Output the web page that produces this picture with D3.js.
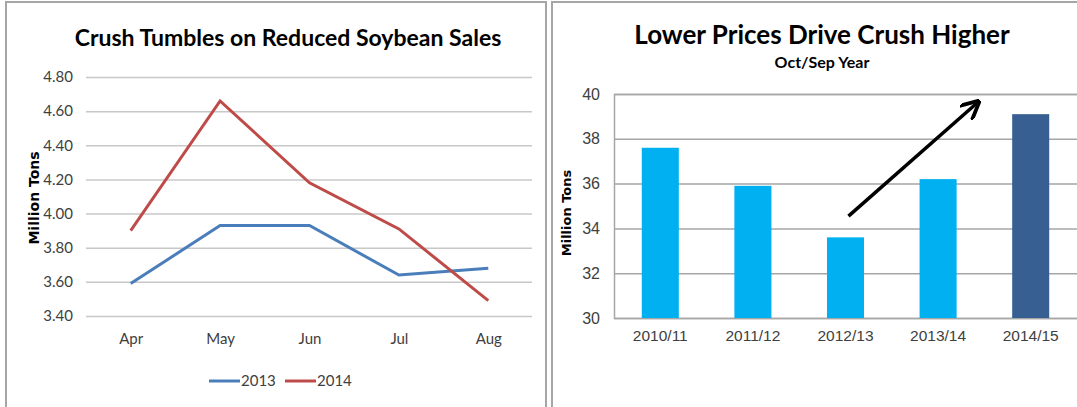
<!DOCTYPE html>
<html>
<head>
<meta charset="utf-8">
<script src="https://cdn.jsdelivr.net/npm/d3@7"></script>
<style>
  body { margin: 0; background: #fff; }
  svg { display: block; font-family: Lato, 'Open Sans', sans-serif; }
</style>
</head>
<body>
<svg id="chart" width="1077" height="407"></svg>
<script>
// left chart: monthly crush
var months = ['Apr', 'May', 'Jun', 'Jul', 'Aug'];
var crush2013 = [3.59, 3.93, 3.93, 3.64, 3.68];
var crush2014 = [3.90, 4.66, 4.18, 3.91, 3.49];
var lineTicks = [3.40, 3.60, 3.80, 4.00, 4.20, 4.40, 4.60, 4.80];

// right chart: marketing year crush
var years = ['2010/11', '2011/12', '2012/13', '2013/14', '2014/15'];
var yearCrush = [37.6, 35.9, 33.6, 36.2, 39.1];
var barTicks = [30, 32, 34, 36, 38, 40];

var svg = d3.select('#chart');
var textColor = '#404040';
var narrow = "'Liberation Sans Narrow', Lato, sans-serif";
var wideBold = "'DejaVu Sans', Verdana, sans-serif";

// panel frames
svg.append('path')
  .attr('d', 'M6,408 V2 H546 V408')
  .attr('fill', 'none')
  .attr('stroke', '#a6a6a6')
  .attr('stroke-width', 2);
svg.append('path')
  .attr('d', 'M552,408 V2 H1080')
  .attr('fill', 'none')
  .attr('stroke', '#a6a6a6')
  .attr('stroke-width', 2);

// ---------- left: line chart ----------
var x1 = d3.scalePoint().domain(months).range([86, 533]).padding(0.5);
var y1 = d3.scaleLinear().domain([3.4, 4.8]).range([316, 77]);

svg.append('text')
  .attr('x', 288)
  .attr('y', 46)
  .attr('text-anchor', 'middle')
  .attr('font-size', 23)
  .attr('font-weight', 'bold')
  .attr('fill', '#000')
  .text('Crush Tumbles on Reduced Soybean Sales');

var left = svg.append('g');

left.append('g')
  .attr('transform', 'translate(86,0)')
  .call(d3.axisLeft(y1).tickValues(lineTicks).tickFormat(d3.format('.2f'))
    .tickSize(-446).tickPadding(13))
  .call(function(g) {
    g.select('.domain').remove();
    g.selectAll('.tick line').attr('stroke', '#c8c8c8').attr('stroke-width', 1.5);
    g.selectAll('.tick text').attr('fill', textColor).attr('font-size', 15)
      .attr('font-family', narrow);
  });

left.append('g')
  .attr('transform', 'translate(0,316)')
  .call(d3.axisBottom(x1).tickSize(0).tickPadding(17))
  .call(function(g) {
    g.select('.domain').remove();
    g.selectAll('.tick text').attr('fill', textColor).attr('font-size', 15)
      .attr('font-family', narrow);
  });

left.append('text')
  .attr('transform', 'translate(39,198) rotate(-90)')
  .attr('text-anchor', 'middle')
  .attr('font-size', 14)
  .attr('font-weight', 'bold')
  .attr('font-family', wideBold)
  .attr('fill', '#000')
  .text('Million Tons');

var line = d3.line()
  .x(function(d, i) { return x1(months[i]); })
  .y(function(d) { return y1(d); });

var series = [
  { name: '2013', values: crush2013, color: '#4a7ebb' },
  { name: '2014', values: crush2014, color: '#be4b48' }
];

left.selectAll('.series')
  .data(series)
  .enter()
  .append('path')
  .attr('class', 'series')
  .attr('d', function(d) { return line(d.values); })
  .attr('fill', 'none')
  .attr('stroke', function(d) { return d.color; })
  .attr('stroke-width', 3);

var legend = left.selectAll('.legend')
  .data(series)
  .enter()
  .append('g')
  .attr('class', 'legend')
  .attr('transform', function(d, i) {
    return 'translate(' + (209 + i * 76) + ',381)';
  });
legend.append('line')
  .attr('x1', 0).attr('x2', 31)
  .attr('stroke', function(d) { return d.color; })
  .attr('stroke-width', 3);
legend.append('text')
  .attr('x', 32)
  .attr('dy', '0.35em')
  .attr('font-size', 15)
  .attr('font-family', narrow)
  .attr('fill', textColor)
  .text(function(d) { return d.name; });

// ---------- right: bar chart ----------
var x2 = d3.scaleBand().domain(years).range([614, 1077]).paddingInner(0.6).paddingOuter(0.3);
var y2 = d3.scaleLinear().domain([30, 40]).range([318, 94]);

svg.append('text')
  .attr('x', 822)
  .attr('y', 44)
  .attr('text-anchor', 'middle')
  .attr('font-size', 26)
  .attr('font-weight', 'bold')
  .attr('fill', '#000')
  .text('Lower Prices Drive Crush Higher');

svg.append('text')
  .attr('x', 822)
  .attr('y', 68)
  .attr('text-anchor', 'middle')
  .attr('font-size', 16)
  .attr('font-weight', 'bold')
  .attr('fill', '#000')
  .text('Oct/Sep Year');

var right = svg.append('g');

right.append('g')
  .attr('transform', 'translate(614,0)')
  .call(d3.axisLeft(y2).tickValues(barTicks).tickSize(-463).tickPadding(14))
  .call(function(g) {
    g.select('.domain').attr('stroke', '#a6a6a6').attr('stroke-width', 1.5);
    g.selectAll('.tick line').attr('stroke', '#a6a6a6').attr('stroke-width', 1.5);
    g.selectAll('.tick text').attr('fill', textColor).attr('font-size', 16);
  });

right.append('g')
  .attr('transform', 'translate(0,318)')
  .call(d3.axisBottom(x2).tickSize(0).tickPadding(12))
  .call(function(g) {
    g.select('.domain').remove();
    g.selectAll('.tick text').attr('fill', textColor).attr('font-size', 15.5);
  });

right.append('text')
  .attr('transform', 'translate(571,213) rotate(-90)')
  .attr('text-anchor', 'middle')
  .attr('font-size', 13)
  .attr('font-weight', 'bold')
  .attr('font-family', wideBold)
  .attr('fill', '#000')
  .text('Million Tons');

right.selectAll('.bar')
  .data(yearCrush)
  .enter()
  .append('rect')
  .attr('class', 'bar')
  .attr('x', function(d, i) { return x2(years[i]); })
  .attr('y', function(d) { return y2(d); })
  .attr('width', x2.bandwidth())
  .attr('height', function(d) { return y2(30) - y2(d); })
  .attr('fill', function(d, i) { return i === years.length - 1 ? '#375f92' : '#00b0f0'; });

// trend arrow from 2012/13 up toward 2014/15
svg.append('defs').append('marker')
  .attr('id', 'head')
  .attr('viewBox', '0 0 10 10')
  .attr('refX', 8).attr('refY', 5)
  .attr('markerWidth', 5.5).attr('markerHeight', 5.5)
  .attr('orient', 'auto')
  .append('path')
  .attr('d', 'M0,0 L10,5 L0,10')
  .attr('fill', 'none')
  .attr('stroke', '#000')
  .attr('stroke-width', 2);

var step = x2.step();
right.append('line')
  .attr('x1', x2('2012/13') + x2.bandwidth() / 2 + 3)
  .attr('y1', y2(34.55))
  .attr('x2', x2('2013/14') + x2.bandwidth() / 2 + step * 0.42)
  .attr('y2', y2(39.6))
  .attr('stroke', '#000')
  .attr('stroke-width', 3.5)
  .attr('marker-end', 'url(#head)');
</script>
</body>
</html>
